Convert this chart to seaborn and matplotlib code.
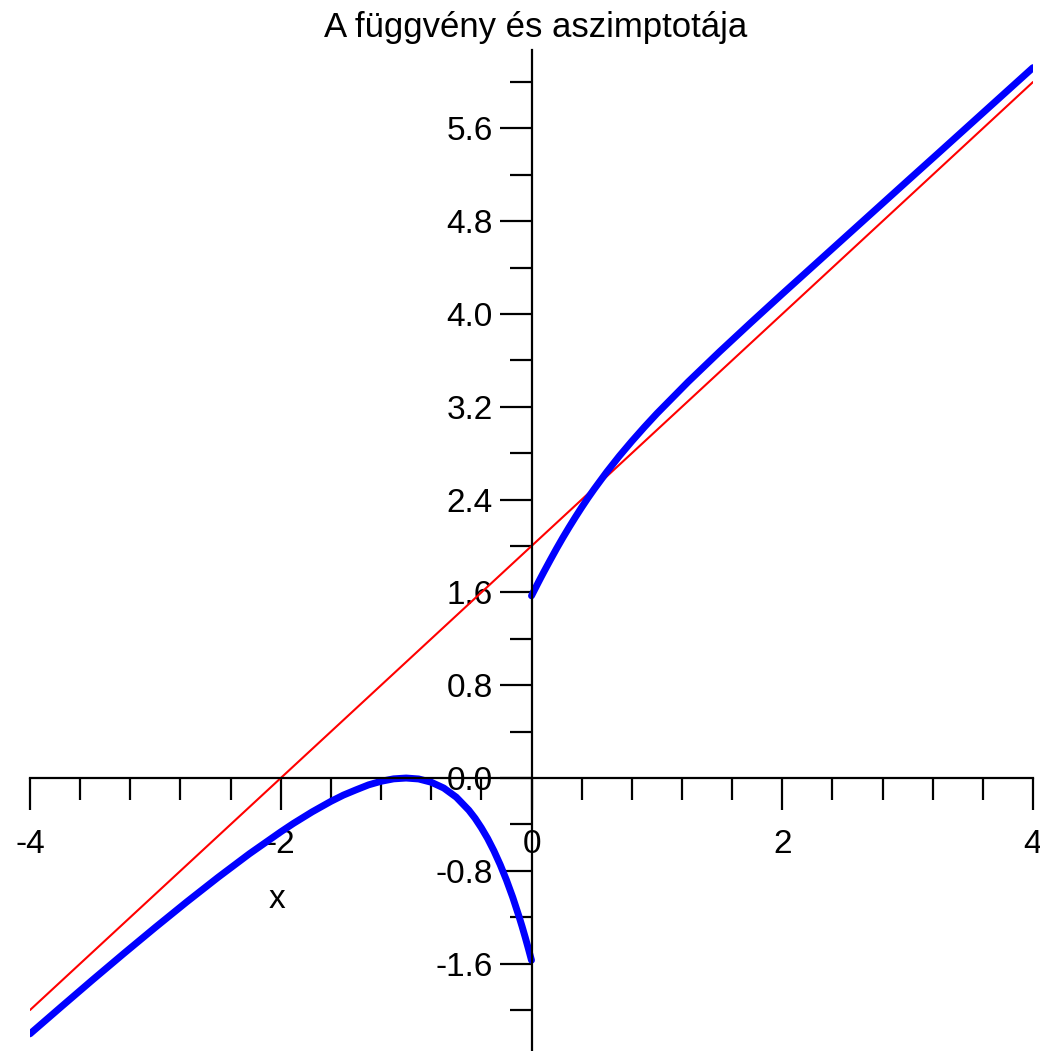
import numpy as np
import pandas as pd
import matplotlib
matplotlib.use("Agg")
import matplotlib.pyplot as plt
from matplotlib.ticker import FixedLocator, MultipleLocator, FormatStrFormatter
import seaborn as sns

# Right branch of the function (x > 0)
x_right = [0.0, 0.025, 0.05, 0.075, 0.1, 0.15, 0.2, 0.25, 0.3, 0.35, 0.4, 0.45,
           0.5, 0.6, 0.7, 0.8, 0.9, 1.0, 1.25, 1.5, 1.75, 2.0, 2.25, 2.5, 2.75,
           3.0, 3.25, 3.5, 3.75, 4.0]
y_right = [1.571, 1.624, 1.677, 1.729, 1.780, 1.880, 1.978, 2.072, 2.162, 2.249,
           2.333, 2.414, 2.491, 2.638, 2.775, 2.903, 3.025, 3.142, 3.416, 3.675,
           3.926, 4.173, 4.417, 4.661, 4.905, 5.149, 5.392, 5.636, 5.880, 6.124]

# Left branch of the function (x < 0)
x_left = [-4.0, -3.75, -3.5, -3.25, -3.0, -2.75, -2.5, -2.25, -2.0, -1.9, -1.75,
          -1.6, -1.5, -1.4, -1.3, -1.2, -1.1, -1.0, -0.9, -0.8, -0.7, -0.6, -0.5,
          -0.45, -0.4, -0.35, -0.3, -0.25, -0.2, -0.15, -0.1, -0.075, -0.05,
          -0.025, 0.0]
y_left = [-2.205, -1.971, -1.739, -1.511, -1.287, -1.068, -0.856, -0.653, -0.464,
          -0.392, -0.292, -0.201, -0.147, -0.102, -0.059, -0.028, -0.007, 0.0,
          -0.008, -0.036, -0.086, -0.165, -0.277, -0.347, -0.429, -0.521, -0.627,
          -0.746, -0.879, -1.027, -1.192, -1.280, -1.373, -1.470, -1.571]

# Oblique asymptote y = x + 2
x_asym = [-4.0, 4.0]
y_asym = [-2.0, 6.0]

x_major = [-4, -2, 0, 2, 4]
y_major = [-1.6, -0.8, 0.0, 0.8, 1.6, 2.4, 3.2, 4.0, 4.8, 5.6]

sns.set_style("white")
plt.rcParams["font.family"] = ["Liberation Sans", "DejaVu Sans"]
plt.rcParams["text.color"] = "black"
plt.rcParams["axes.labelcolor"] = "black"

fig = plt.figure(figsize=(10.4, 10.51), dpi=100)
ax = fig.add_axes([30 / 1040, 0.0, 1003 / 1040, 1001 / 1051])

df_asym = pd.DataFrame({"x": x_asym, "y": y_asym})
df_right = pd.DataFrame({"x": x_right, "y": y_right})
df_left = pd.DataFrame({"x": x_left, "y": y_left})

sns.lineplot(data=df_asym, x="x", y="y", ax=ax, color="#ff0000", linewidth=1.5,
             estimator=None, sort=False)
for df in (df_left, df_right):
    sns.lineplot(data=df, x="x", y="y", ax=ax, color="#0000ff", linewidth=5,
                 estimator=None, sort=False, solid_capstyle="round",
                 solid_joinstyle="round")

ax.set_xlim(-4, 4)
ax.set_ylim(-2.353, 6.276)

# Axes crossing at the origin
for side in ("top", "right"):
    ax.spines[side].set_visible(False)
ax.spines["left"].set_position(("data", 0))
ax.spines["bottom"].set_position(("data", 0))
for side in ("left", "bottom"):
    ax.spines[side].set_color("black")
    ax.spines[side].set_linewidth(1.6)

ax.xaxis.set_major_locator(FixedLocator(x_major))
ax.xaxis.set_minor_locator(MultipleLocator(0.4))
ax.yaxis.set_major_locator(FixedLocator(y_major))
ax.yaxis.set_minor_locator(MultipleLocator(0.4))
ax.xaxis.set_major_formatter(FormatStrFormatter("%d"))
ax.yaxis.set_major_formatter(FormatStrFormatter("%.1f"))

ax.tick_params(which="both", bottom=True, left=True, top=False, right=False)
ax.tick_params(axis="x", which="major", direction="out", length=23, width=1.6,
               pad=14, labelsize=24, colors="black")
ax.tick_params(axis="x", which="minor", direction="out", length=16, width=1.6,
               colors="black")
ax.tick_params(axis="y", which="major", direction="out", length=23, width=1.6,
               pad=5, labelsize=24, colors="black")
ax.tick_params(axis="y", which="minor", direction="out", length=16, width=1.6,
               colors="black")
ax.grid(False)

ax.set_ylabel("")
ax.set_xlabel("x", fontsize=24, color="black")
ax.xaxis.set_label_coords((277 - 30) / 1003, (1051 - 900) / 1001)
ax.xaxis.label.set_verticalalignment("center")

fig.text(536 / 1040, 1 - 28 / 1051, "A függvény és aszimptotája",
         ha="center", va="center", fontsize=25, color="black")

fig.savefig("out.png", dpi=100)
